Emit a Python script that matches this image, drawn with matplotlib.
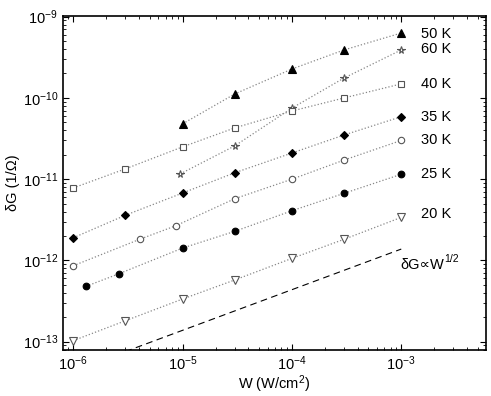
import numpy as np
import matplotlib
matplotlib.use("Agg")
import matplotlib.pyplot as plt

plt.rcParams['font.family'] = ['Liberation Sans', 'DejaVu Sans']
plt.rcParams['mathtext.fontset'] = 'custom'
plt.rcParams['mathtext.rm'] = 'Liberation Sans'
plt.rcParams['mathtext.it'] = 'Liberation Sans'

# power density W (W/cm^2) and conductance change dG (1/Ohm) per temperature
w_50 = [1e-5, 3e-5, 1e-4, 3e-4, 1e-3]
g_50 = [4.8e-11, 1.12e-10, 2.27e-10, 3.9e-10, 6.3e-10]

w_60 = [9.5e-6, 3e-5, 1e-4, 3e-4, 1e-3]
g_60 = [1.16e-11, 2.57e-11, 7.5e-11, 1.76e-10, 3.9e-10]

w_40 = [1e-6, 3e-6, 1e-5, 3e-5, 1e-4, 3e-4, 1e-3]
g_40 = [7.8e-12, 1.34e-11, 2.5e-11, 4.28e-11, 6.9e-11, 1.0e-10, 1.49e-10]

w_35 = [1e-6, 3e-6, 1e-5, 3e-5, 1e-4, 3e-4, 1e-3]
g_35 = [1.9e-12, 3.6e-12, 6.76e-12, 1.2e-11, 2.1e-11, 3.5e-11, 5.88e-11]

w_30 = [1e-6, 4.05e-6, 8.65e-6, 3e-5, 1e-4, 3e-4, 1e-3]
g_30 = [8.6e-13, 1.82e-12, 2.67e-12, 5.75e-12, 1.0e-11, 1.72e-11, 3.0e-11]

w_25 = [1.31e-6, 2.62e-6, 1e-5, 3e-5, 1e-4, 3e-4, 1e-3]
g_25 = [4.8e-13, 6.86e-13, 1.42e-12, 2.28e-12, 4.09e-12, 6.7e-12, 1.15e-11]

w_20 = [1e-6, 3e-6, 1e-5, 3e-5, 1e-4, 3e-4, 1e-3]
g_20 = [1.03e-13, 1.81e-13, 3.35e-13, 5.75e-13, 1.06e-12, 1.82e-12, 3.39e-12]

# reference slope line dG ~ W^(1/2)
w_ref = [1e-6, 1e-3]
g_ref_end = 1.38e-12

labels = ['50 K', '60 K', '40 K', '35 K', '30 K', '25 K', '20 K']
label_y = [6.2e-10, 3.95e-10, 1.5e-10, 5.9e-11, 3.0e-11, 1.15e-11, 3.7e-12]

fig = plt.figure(figsize=(4.91, 3.96), dpi=100)
ax = fig.add_axes([0.1283, 0.1162, 0.8615, 0.8434])

dark = '#555555'
series = [
    (w_50, g_50, '^', 'black', 'black', 5.2),
    (w_60, g_60, '*', 'white', dark, 5.5),
    (w_40, g_40, 's', 'white', dark, 4.2),
    (w_35, g_35, 'D', 'black', 'black', 4.2),
    (w_30, g_30, 'o', 'white', dark, 4.6),
    (w_25, g_25, 'o', 'black', 'black', 4.8),
    (w_20, g_20, 'v', 'white', dark, 5.2),
]
for w, g, m, fc, ec, ms in series:
    ax.plot(w, g, ':', color='#888888', lw=0.9, zorder=1)
    ax.plot(w, g, m, mfc=fc, mec=ec, ms=ms, mew=0.8, ls='none', zorder=2)

w_ref = np.array(w_ref)
ax.plot(w_ref, g_ref_end * np.sqrt(w_ref / w_ref[-1]), '--', color='black',
        lw=0.8, dashes=(6, 4))

for lab, y in zip(labels, label_y):
    ax.text(1.52e-3, y, lab, fontsize=10.5, va='center', ha='left')
t = ax.text(9.8e-4, 8.8e-13, 'δG∝W', fontsize=10.5, va='center', ha='left')
ax.annotate('1/2', xy=(1.0, 0.55), xycoords=t, fontsize=7.5,
            va='bottom', ha='left')

ax.set_xscale('log')
ax.set_yscale('log')
ax.set_xlim(10**-6.094, 10**-2.225)
ax.set_ylim(7.9e-14, 1.02e-9)
ax.set_xticks([1e-6, 1e-5, 1e-4, 1e-3])
ax.set_yticks([1e-13, 1e-12, 1e-11, 1e-10, 1e-9])
ax.tick_params(which='both', direction='in', top=True, right=True,
               labelsize=10.5)
ax.tick_params(which='major', length=4)
ax.tick_params(which='minor', length=2)
for s in ax.spines.values():
    s.set_linewidth(1.2)

ax.set_xlabel('W (W/cm$^2$)', fontsize=10.5, labelpad=0)
ax.set_ylabel('δG (1/Ω)', fontsize=10.5, labelpad=2)

fig.savefig('out.png', dpi=100)
